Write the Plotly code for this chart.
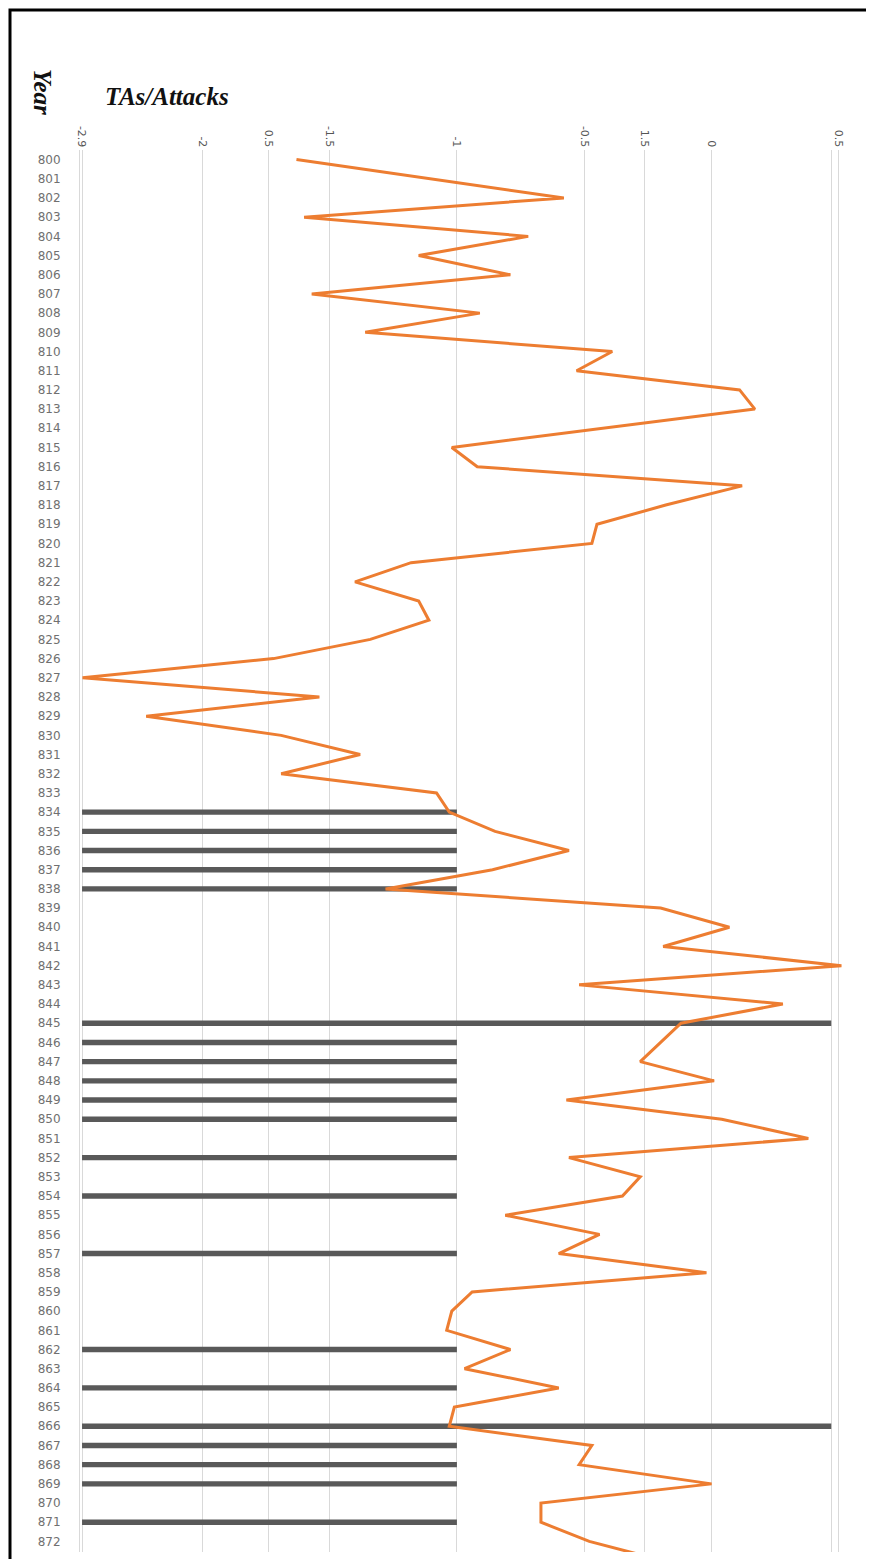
import plotly.graph_objects as go

# years on the vertical axis (873 only exists so the line runs off the bottom edge)
years = list(range(800, 874))

# orange line: TAs/Attacks per year
attacks = [-1.63, -1.10, -0.58, -1.60, -0.72, -1.15, -0.79, -1.57, -0.91, -1.36,
           -0.39, -0.53, 0.11, 0.17, -0.43, -1.02, -0.92, 0.12, -0.18, -0.45,
           -0.47, -1.18, -1.40, -1.15, -1.11, -1.34, -1.72, -2.47, -1.54, -2.22,
           -1.69, -1.38, -1.69, -1.08, -1.03, -0.85, -0.56, -0.86, -1.28, -0.20,
           0.07, -0.19, 0.51, -0.52, 0.28, -0.12, -0.20, -0.28, 0.01, -0.57,
           0.04, 0.38, -0.56, -0.28, -0.35, -0.81, -0.44, -0.60, -0.02, -0.94,
           -1.02, -1.04, -0.79, -0.97, -0.60, -1.01, -1.03, -0.47, -0.52, 0.00,
           -0.67, -0.67, -0.48, -0.19]

# grey bars: years marked, and where each bar ends
bar_years = [834, 835, 836, 837, 838, 845, 846, 847, 848, 849, 850, 852, 854,
             857, 862, 864, 866, 867, 868, 869, 871]
bar_end = [-1, -1, -1, -1, -1, 0.47, -1, -1, -1, -1, -1, -1, -1,
           -1, -1, -1, 0.47, -1, -1, -1, -1]
bar_base = -2.472

tick_vals = [-2.472, -2, -1.739, -1.5, -1, -0.5, -0.265, 0, 0.47, 0.5]
tick_text = ["-2.9", "-2", "0.5", "-1.5", "-1", "-0.5", "1.5", "0", "", "0.5"]

fig = go.Figure()
fig.add_trace(go.Bar(y=bar_years, x=[e - bar_base for e in bar_end], base=bar_base,
                     orientation='h', width=0.28,
                     marker=dict(color='#595959', line=dict(width=0))))
fig.add_trace(go.Scatter(x=attacks, y=years, mode='lines',
                         line=dict(color='#ED7D31', width=3)))

# page body adds 8px, so layout is set 8px up/left
W, H = 874, 1559
l, t = 72, 142
pw, ph = 765, 1402
r, b = W - l - pw, H - t - ph
OFF = 8


def px_x(x):
    return (x - OFF - l) / pw


def px_y(y):
    return 1 - (y - OFF - t) / ph


fig.update_layout(
    width=W, height=H, showlegend=False,
    margin=dict(l=l, r=r, t=t, b=b),
    paper_bgcolor='white', plot_bgcolor='white',
    xaxis=dict(side='top', range=[-2.48, 0.524], tickmode='array',
               tickvals=tick_vals, ticktext=tick_text, tickangle=90,
               showgrid=True, gridcolor='#d9d9d9', gridwidth=1, zeroline=False,
               ticks='', tickfont=dict(family='DejaVu Sans', size=11, color='#555555')),
    yaxis=dict(range=[872.55, 799.5], tickmode='array', tickvals=years[:-1],
               ticktext=[str(y) for y in years[:-1]], showgrid=False,
               zeroline=False, showline=True, linecolor='#d9d9d9', ticks='',
               ticklabelstandoff=16,
               tickfont=dict(family='DejaVu Sans', size=12, color='#707070')),
    annotations=[
        dict(text='<b><i>TAs/Attacks</i></b>', xref='paper', yref='paper',
             x=px_x(103), y=px_y(97), xanchor='left', yanchor='middle',
             showarrow=False, font=dict(family='Liberation Serif', size=25, color='#111111')),
        dict(text='<b><i>Year</i></b>', xref='paper', yref='paper', textangle=90,
             x=px_x(42), y=px_y(92), xanchor='center', yanchor='middle',
             showarrow=False, font=dict(family='Liberation Serif', size=25, color='#111111')),
    ],
    shapes=[dict(type='rect', xref='paper', yref='paper',
                 x0=px_x(10), x1=px_x(870), y0=px_y(1590), y1=px_y(10),
                 line=dict(color='black', width=3))],
)

fig.write_html("out.html")
